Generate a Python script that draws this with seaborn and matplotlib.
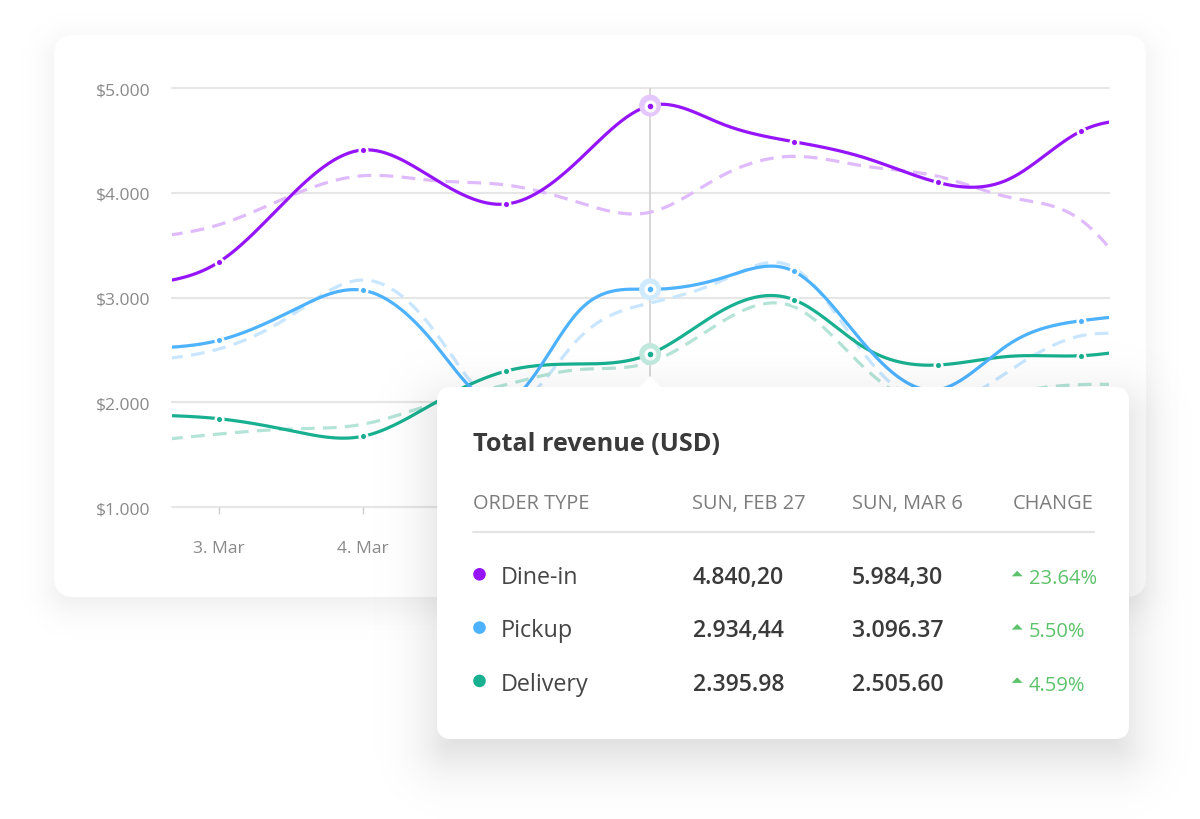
import numpy as np
import matplotlib
matplotlib.use("Agg")
import matplotlib.pyplot as plt
from matplotlib.patches import FancyBboxPatch, Polygon, Circle
import seaborn as sns

# ---------------- data (March, half-day steps) ----------------
days = [2.5, 3.0, 3.5, 4.0, 4.5, 5.0, 5.5, 6.0, 6.5, 7.0, 7.5, 8.0, 8.5, 9.0, 9.5]
dine_in = [3130, 3341, 3974, 4411, 4134, 3895, 4309, 4835, 4660, 4490, 4334, 4102, 4134, 4592, 4690]
dine_in_prev = [3570, 3697, 3974, 4165, 4118, 4076, 3911, 3816, 4165, 4350, 4255, 4160, 3959, 3740, 2900]
pickup = [2515, 2593, 2870, 3071, 2560, 2000, 2866, 3080, 3188, 3252, 2542, 2120, 2558, 2780, 2850]
pickup_prev = [2400, 2510, 2828, 3169, 2680, 1950, 2606, 2949, 3163, 3287, 2446, 1980, 2303, 2637, 2610]
delivery = [1880, 1844, 1730, 1676, 1995, 2300, 2367, 2462, 2876, 2981, 2517, 2357, 2440, 2446, 2540]
delivery_prev = [1630, 1698, 1746, 1791, 1990, 2170, 2313, 2383, 2771, 2914, 2319, 1950, 2080, 2170, 2160]

tick_days = [3, 4, 5, 6, 7, 8, 9]
tick_labels = ["3. Mar", "4. Mar", "5. Mar", "6. Mar", "7. Mar", "8. Mar", "9. Mar"]
y_ticks = [1000, 2000, 3000, 4000, 5000]
y_tick_labels = ["$1.000", "$2.000", "$3.000", "$4.000", "$5.000"]
hover_day = 6.0

tooltip_title = "Total revenue (USD)"
tooltip_headers = ["ORDER TYPE", "SUN, FEB 27", "SUN, MAR 6", "CHANGE"]
order_types = ["Dine-in", "Pickup", "Delivery"]
feb27_values = ["4.840,20", "2.934,44", "2.395.98"]
mar6_values = ["5.984,30", "3.096.37", "2.505.60"]
change_values = ["23.64%", "5.50%", "4.59%"]

# ---------------- style ----------------
PURPLE, PURPLE_L, PURPLE_H = "#9614FA", "#DFBAFC", "#E4C8FD"
BLUE, BLUE_L, BLUE_H = "#4DB2FF", "#C8E6FF", "#D0EAFF"
TEAL, TEAL_L, TEAL_H = "#18B090", "#B4E4D7", "#C2E9DE"
GREEN = "#5CC26B"
GRID = "#E6E6E6"
LABEL = "#8A8A8A"

sns.set_theme(style="white")
plt.rcParams["font.family"] = ["Open Sans", "DejaVu Sans"]


def smooth(x, y, n=30):
    """Natural cubic spline through the points (display smoothing only)."""
    x = np.asarray(x, float)
    y = np.asarray(y, float)
    N = len(x)
    h = np.diff(x)
    A = np.zeros((N, N))
    b = np.zeros(N)
    A[0, 0] = A[-1, -1] = 1
    for i in range(1, N - 1):
        A[i, i - 1] = h[i - 1]
        A[i, i] = 2 * (h[i - 1] + h[i])
        A[i, i + 1] = h[i]
        b[i] = 3 * ((y[i + 1] - y[i]) / h[i] - (y[i] - y[i - 1]) / h[i - 1])
    c = np.linalg.solve(A, b)
    xs, ys = [], []
    for i in range(N - 1):
        bi = (y[i + 1] - y[i]) / h[i] - h[i] * (2 * c[i] + c[i + 1]) / 3
        di = (c[i + 1] - c[i]) / (3 * h[i])
        t = np.linspace(0, h[i], n, endpoint=(i == N - 2))
        xs.append(x[i] + t)
        ys.append(y[i] + bi * t + c[i] * t**2 + di * t**3)
    return np.concatenate(xs), np.concatenate(ys)


W, H = 1200, 820
YY, XX = np.mgrid[0:H, 0:W] + 0.5


def shadow_image(ax, x0, y0, x1, y1, r, soft, dy, strength, grow, z):
    cx, cy = (x0 + x1) / 2, (y0 + y1) / 2 + dy
    hw, hh = (x1 - x0) / 2, (y1 - y0) / 2
    qx = np.abs(XX - cx) - (hw - r)
    qy = np.abs(YY - cy) - (hh - r)
    d = np.hypot(np.maximum(qx, 0), np.maximum(qy, 0)) + np.minimum(np.maximum(qx, qy), 0) - r
    a = strength / (1 + np.exp((d - grow) / soft))
    img = np.zeros((H, W, 4))
    img[..., 3] = a
    ax.imshow(img, extent=(0, W, H, 0), interpolation="bilinear", zorder=z, aspect="auto")


fig = plt.figure(figsize=(W / 100, H / 100), dpi=100)
fig.patch.set_facecolor("white")

# background card
bg = fig.add_axes([0, 0, 1, 1], zorder=0)
bg.axis("off")
cx0, cy0, cx1, cy1 = 54, 36, 1146, 598
shadow_image(bg, cx0, cy0, cx1, cy1, 20, 11, 9, 0.08, 0, 0)
bg.add_patch(FancyBboxPatch((cx0, cy0), cx1 - cx0, cy1 - cy0,
                            boxstyle="round,pad=0,rounding_size=20", fc="white", ec="none", zorder=2))
bg.set_xlim(0, W)
bg.set_ylim(H, 0)

# plot area
px0, px1, py0, py1 = 172, 1109, 89.3, 508.1
ax = fig.add_axes([px0 / W, 1 - py1 / H, (px1 - px0) / W, (py1 - py0) / H], zorder=1)
ax.set_facecolor("none")
x_left = 3 - (219 - px0) / 143.7
x_right = 3 + (px1 - 219) / 143.7
ax.set_xlim(x_left, x_right)
ax.set_ylim(1000, 5000)
for s in ax.spines.values():
    s.set_visible(False)

for v in y_ticks:
    ax.axhline(v, color=GRID, lw=1.5, zorder=0, clip_on=False)
ax.axvline(hover_day, color="#D4D4D4", lw=1.3, zorder=0.5)

ax.set_yticks(y_ticks)
ax.set_yticklabels(y_tick_labels)
ax.set_xticks(tick_days)
ax.set_xticklabels(tick_labels)
ax.tick_params(axis="y", length=0, pad=15.3, labelsize=12.6, labelcolor=LABEL)
ax.tick_params(axis="x", length=5, width=1, color="#CCCCCC", pad=18.5, labelsize=12.6,
               labelcolor=LABEL, bottom=True)

dash = (0, (4.3, 2.6))
series = [
    (dine_in_prev, PURPLE_L, True, None),
    (pickup_prev, BLUE_L, True, None),
    (delivery_prev, TEAL_L, True, None),
    (delivery, TEAL, False, TEAL_H),
    (pickup, BLUE, False, BLUE_H),
    (dine_in, PURPLE, False, PURPLE_H),
]
for k, (vals, color, dashed, halo) in enumerate(series):
    sx, sy = smooth(days, vals)
    z = 2 if dashed else 3 + k
    sns.lineplot(x=sx, y=sy, ax=ax, color=color, lw=2.3, estimator=None, sort=False,
                 linestyle=dash if dashed else "-", solid_capstyle="round", zorder=z)
    if not dashed:
        mx = [d for d in days if float(d).is_integer() and 3 <= d <= 9 and d != hover_day]
        my = [v for d, v in zip(days, vals) if d in mx]
        sns.scatterplot(x=mx, y=my, ax=ax, color=color, s=30, edgecolor="white",
                        linewidth=1.8, zorder=z + 0.5)
        hy = vals[days.index(hover_day)]
        ax.scatter([hover_day], [hy], s=250, color=halo, edgecolor="none", zorder=z + 0.4)
        ax.scatter([hover_day], [hy], s=40, color=color, edgecolor="white", linewidth=2.3,
                   zorder=z + 0.6)
ax.set_xlabel("")
ax.set_ylabel("")

# tooltip overlay
top = fig.add_axes([0, 0, 1, 1], zorder=3)
top.set_facecolor("none")
top.axis("off")
tx0, ty0, tx1, ty1 = 437, 388, 1129, 740
shadow_image(top, tx0, ty0, tx1, ty1, 14, 17, 18, 0.16, 0, 1)
top.add_patch(FancyBboxPatch((tx0, ty0), tx1 - tx0, ty1 - ty0,
                             boxstyle="round,pad=0,rounding_size=14", fc="white", ec="none", zorder=2))
hx = px0 + (hover_day - x_left) / (x_right - x_left) * (px1 - px0)
top.add_patch(Polygon([[hx - 12, ty0 + 1], [hx + 12, ty0 + 1], [hx, ty0 - 11]],
                      closed=True, fc="white", ec="none", zorder=2))
top.set_xlim(0, W)
top.set_ylim(H, 0)

top.text(473, 451, tooltip_title, fontsize=18.2, fontweight="bold", color="#3A3A3A",
         va="baseline", ha="left", zorder=3)
col_x = [473, 692.5, 852, 1012.5]
for cxx, htxt in zip(col_x, tooltip_headers):
    top.text(cxx, 509.3, htxt, fontsize=14.4, color="#7C7C7C", va="baseline", ha="left", zorder=3)
top.plot([473, 1094], [533.3, 533.3], color="#E3E3E3", lw=1.5, zorder=3)

dot_colors = [PURPLE, BLUE, TEAL]
for i in range(3):
    base = 584 + 53.3 * i
    top.add_patch(Circle((479.5, base - 8.7), 6.3, fc=dot_colors[i], ec="none", zorder=3))
    top.text(501, base, order_types[i], fontsize=16.8, color="#454545", va="baseline", zorder=3)
    top.text(692.5, base, feb27_values[i], fontsize=16.6, color="#3A3A3A", fontweight="semibold",
             va="baseline", zorder=3)
    top.text(852, base, mar6_values[i], fontsize=16.6, color="#3A3A3A", fontweight="semibold",
             va="baseline", zorder=3)
    tb = base - 6.7
    top.add_patch(Polygon([[1011.7, tb], [1022.7, tb], [1017.2, tb - 5.5]], closed=True,
                          fc=GREEN, ec="none", zorder=3))
    top.text(1029, base, change_values[i], fontsize=14.5, color=GREEN, va="baseline", zorder=3)

fig.savefig("out.png", dpi=100, facecolor="white")
